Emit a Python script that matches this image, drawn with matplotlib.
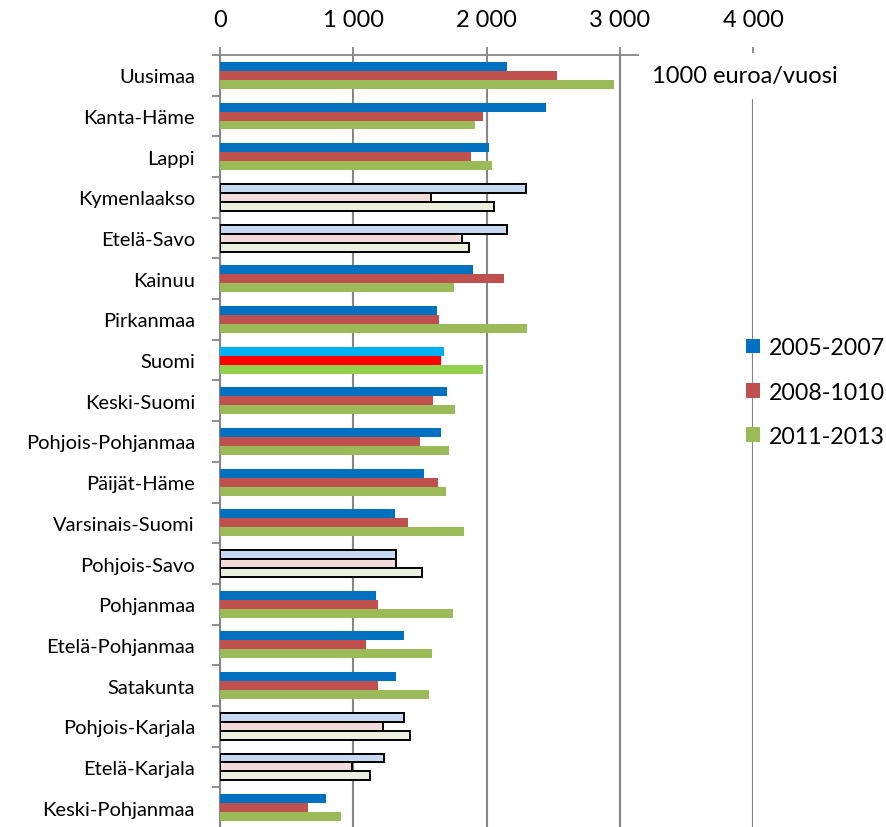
import numpy as np
import matplotlib
matplotlib.use("Agg")
import matplotlib.pyplot as plt
from matplotlib.patches import Patch

plt.rcParams['font.family'] = ['Lato', 'DejaVu Sans']

# alueet ylhäältä alas
alueet = ["Uusimaa", "Kanta-Häme", "Lappi", "Kymenlaakso", "Etelä-Savo", "Kainuu",
          "Pirkanmaa", "Suomi", "Keski-Suomi", "Pohjois-Pohjanmaa", "Päijät-Häme",
          "Varsinais-Suomi", "Pohjois-Savo", "Pohjanmaa", "Etelä-Pohjanmaa",
          "Satakunta", "Pohjois-Karjala", "Etelä-Karjala", "Keski-Pohjanmaa"]

v2005_2007 = [2153, 2445, 2017, 2293, 2156, 1895, 1632, 1682, 1702, 1659, 1529,
              1312, 1321, 1171, 1381, 1319, 1383, 1228, 799]
v2008_2010 = [2528, 1972, 1887, 1584, 1817, 2135, 1644, 1660, 1597, 1502, 1634,
              1409, 1321, 1184, 1094, 1184, 1223, 988, 664]
v2011_2013 = [2956, 1912, 2042, 2058, 1872, 1757, 2302, 1975, 1765, 1719, 1697,
              1830, 1514, 1747, 1592, 1565, 1429, 1123, 906]

sarjat = ["2005-2007", "2008-1010", "2011-2013"]
xtikit = [0, 1000, 2000, 3000, 4000]
xtikit_tekstit = ["0", "1 000", "2 000", "3 000", "4 000"]

# tyylit
varit = ["#0070C0", "#C0504D", "#9BBB59"]
suomi_varit = ["#00B0F0", "#FF0000", "#92D050"]
vaaleat = ["#C6D9F1", "#F2DCDB", "#EBF1DE"]
ontot = ["Kymenlaakso", "Etelä-Savo", "Pohjois-Savo", "Pohjois-Karjala", "Etelä-Karjala"]
harmaa = "#868686"

fig = plt.figure(figsize=(8.86, 8.28), dpi=100)
ax = fig.add_axes([220 / 886, -1 / 828, (753 - 220) / 886, (825 - 52) / 828])

y = np.arange(len(alueet))
h = 0.22
arvot = [v2005_2007, v2008_2010, v2011_2013]
for s, vals in enumerate(arvot):
    for i, nimi in enumerate(alueet):
        yy = y[i] + (s - 1) * h
        if nimi in ontot:
            ax.barh(yy, vals[i], height=h, color=vaaleat[s], edgecolor="black",
                    linewidth=1.4, zorder=3)
        elif nimi == "Suomi":
            ax.barh(yy, vals[i], height=h, color=suomi_varit[s], linewidth=0, zorder=3)
        else:
            ax.barh(yy, vals[i], height=h, color=varit[s], linewidth=0, zorder=3)

ax.set_xlim(0, 4000)
ax.set_ylim(len(alueet) - 0.5, -0.5)

ax.xaxis.tick_top()
ax.set_xticks(xtikit)
ax.set_xticklabels(xtikit_tekstit, fontsize=17)
ax.tick_params(axis="x", direction="out", length=6, width=1.3, color=harmaa, pad=12)
ax.xaxis.grid(True, color=harmaa, linewidth=1.5, zorder=0)
ax.set_axisbelow(True)

ax.set_yticks(y)
ax.set_yticklabels(alueet, fontsize=14.5)
ax.tick_params(axis="y", length=0, pad=18)
ax.set_yticks(np.arange(len(alueet) + 1) - 0.5, minor=True)
ax.tick_params(axis="y", which="minor", direction="out", length=6, width=1.3, color=harmaa)

for k in ["right", "bottom"]:
    ax.spines[k].set_visible(False)
ax.spines["top"].set_color(harmaa)
ax.spines["top"].set_linewidth(1.3)
ax.spines["left"].set_color(harmaa)
ax.spines["left"].set_linewidth(1.5)

# yksikköteksti valkoisessa laatikossa
fig.text(652 / 886, 1 - 77 / 828, "1000 euroa/vuosi", fontsize=17, va="center",
         ha="left", zorder=10,
         bbox=dict(facecolor="white", edgecolor="none", pad=9))

kahvat = [Patch(facecolor=c) for c in varit]
fig.legend(kahvat, sarjat, loc="center left", bbox_to_anchor=(725 / 886, 1 - 393 / 828),
           frameon=False, fontsize=16.7, handlelength=0.6, handleheight=0.6,
           handletextpad=0.4, labelspacing=1.0)

fig.savefig("out.png", dpi=100)
